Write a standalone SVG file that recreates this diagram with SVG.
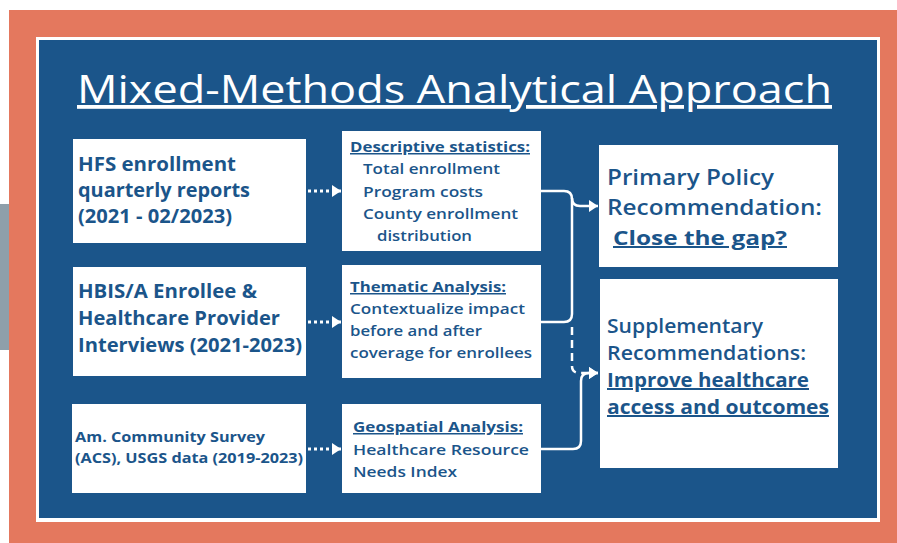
<svg xmlns="http://www.w3.org/2000/svg" width="897" height="543" viewBox="0 0 897 543">
  <style>
    text { font-family: "Open Sans", "Noto Sans", "Liberation Sans", sans-serif; fill: #1b558a; font-weight: 600; }
    .title { fill: #ffffff; font-size: 38px; font-weight: 500; text-decoration: underline; }
    .b { font-weight: 700; }
    .u { text-decoration: underline; }
    .box { fill: #ffffff; }
    .s19 { font-size: 19px; }
    .s15 { font-size: 15px; }
    .s14 { font-size: 14.5px; }
    .s22 { font-size: 22px; }
    .s20 { font-size: 20px; }
    .conn { fill: none; stroke: #ffffff; stroke-width: 2.5; }
    .dot { fill: none; stroke: #ffffff; stroke-width: 3; stroke-dasharray: 3 3; }
    .dash { fill: none; stroke: #ffffff; stroke-width: 2.5; stroke-dasharray: 8 5; }
  </style>
  <defs>
    <marker id="ah" markerUnits="userSpaceOnUse" markerWidth="10" markerHeight="12" refX="9" refY="6" orient="auto">
      <path d="M0,0 L9,6 L0,12 z" fill="#ffffff"/>
    </marker>
  </defs>

  <!-- frame -->
  <rect x="0" y="204" width="12" height="146" fill="#8e9faa"/>
  <rect x="9" y="10" width="888" height="533" fill="#e4785e"/>
  <rect x="36" y="37" width="844" height="485" fill="#ffffff"/>
  <rect x="39" y="40" width="838" height="478" fill="#1b558a"/>

  <text class="title" x="77" y="103" textLength="755" lengthAdjust="spacingAndGlyphs">Mixed-Methods Analytical Approach</text>

  <!-- data sources -->
  <g id="hfs-reports">
    <rect class="box" x="73" y="139" width="233" height="104"/>
    <text class="b s19" x="78" y="171" textLength="158" lengthAdjust="spacingAndGlyphs">HFS enrollment</text>
    <text class="b s19" x="78" y="197" textLength="172" lengthAdjust="spacingAndGlyphs">quarterly reports</text>
    <text class="b s19" x="78" y="223" textLength="154" lengthAdjust="spacingAndGlyphs">(2021 - 02/2023)</text>
  </g>
  <g id="hbis-interviews">
    <rect class="box" x="73" y="267" width="233" height="109"/>
    <text class="b s19" x="78" y="298" textLength="179" lengthAdjust="spacingAndGlyphs">HBIS/A Enrollee &amp;</text>
    <text class="b s19" x="78" y="325" textLength="202" lengthAdjust="spacingAndGlyphs">Healthcare Provider</text>
    <text class="b s19" x="78" y="352" textLength="224" lengthAdjust="spacingAndGlyphs">Interviews (2021-2023)</text>
  </g>
  <g id="acs-usgs">
    <rect class="box" x="72" y="404" width="234" height="89"/>
    <text class="b s14" x="75" y="442" textLength="190" lengthAdjust="spacingAndGlyphs">Am. Community Survey</text>
    <text class="b s14" x="75" y="463" textLength="228" lengthAdjust="spacingAndGlyphs">(ACS), USGS data (2019-2023)</text>
  </g>

  <!-- analyses -->
  <g id="descriptive">
    <rect class="box" x="342" y="131" width="199" height="120"/>
    <text class="b u s15" x="350" y="152" textLength="180" lengthAdjust="spacingAndGlyphs">Descriptive statistics:</text>
    <text class="s15" x="363" y="174" textLength="137" lengthAdjust="spacingAndGlyphs">Total enrollment</text>
    <text class="s15" x="363" y="197" textLength="120" lengthAdjust="spacingAndGlyphs">Program costs</text>
    <text class="s15" x="363" y="219" textLength="155" lengthAdjust="spacingAndGlyphs">County enrollment</text>
    <text class="s15" x="377" y="241" textLength="95" lengthAdjust="spacingAndGlyphs">distribution</text>
  </g>
  <g id="thematic">
    <rect class="box" x="342" y="265" width="199" height="113"/>
    <text class="b u s15" x="350" y="292" textLength="156" lengthAdjust="spacingAndGlyphs">Thematic Analysis:</text>
    <text class="s15" x="350" y="314" textLength="175" lengthAdjust="spacingAndGlyphs">Contextualize impact</text>
    <text class="s15" x="350" y="336" textLength="132" lengthAdjust="spacingAndGlyphs">before and after</text>
    <text class="s15" x="350" y="358" textLength="182" lengthAdjust="spacingAndGlyphs">coverage for enrollees</text>
  </g>
  <g id="geospatial">
    <rect class="box" x="342" y="404" width="199" height="89"/>
    <text class="b u s15" x="353" y="432" textLength="170" lengthAdjust="spacingAndGlyphs">Geospatial Analysis:</text>
    <text class="s15" x="353" y="455" textLength="176" lengthAdjust="spacingAndGlyphs">Healthcare Resource</text>
    <text class="s15" x="353" y="477" textLength="104" lengthAdjust="spacingAndGlyphs">Needs Index</text>
  </g>

  <!-- recommendations -->
  <g id="primary-policy">
    <rect class="box" x="599" y="145" width="239" height="122"/>
    <text class="s22" x="607" y="185" textLength="167" lengthAdjust="spacingAndGlyphs">Primary Policy</text>
    <text class="s22" x="607" y="215" textLength="215" lengthAdjust="spacingAndGlyphs">Recommendation:</text>
    <text class="b u s20" x="613" y="245" textLength="174" lengthAdjust="spacingAndGlyphs">Close the gap?</text>
  </g>
  <g id="supplementary">
    <rect class="box" x="600" y="279" width="238" height="189"/>
    <text class="s20" x="607" y="333" textLength="156" lengthAdjust="spacingAndGlyphs">Supplementary</text>
    <text class="s20" x="607" y="360" textLength="199" lengthAdjust="spacingAndGlyphs">Recommendations:</text>
    <text class="b u s20" x="607" y="387" textLength="202" lengthAdjust="spacingAndGlyphs">Improve healthcare</text>
    <text class="b u s20" x="607" y="414" textLength="222" lengthAdjust="spacingAndGlyphs">access and outcomes</text>
  </g>

  <!-- connectors -->
  <g id="connectors">
    <path class="dot" d="M308,191 H341" marker-end="url(#ah)"/>
    <path class="dot" d="M308,322 H341" marker-end="url(#ah)"/>
    <path class="dot" d="M308,449 H341" marker-end="url(#ah)"/>
    <path class="conn" d="M541,191 H564 Q572,191 572,199 V314 Q572,322 564,322 H541"/>
    <path class="conn" d="M572,198 Q572,206 580,206 H598" marker-end="url(#ah)"/>
    <path class="dash" d="M572,327 V366 Q572,373 580,373 H598" marker-end="url(#ah)"/>
    <path class="conn" d="M541,449 H573 Q581,449 581,441 V381 Q581,373 589,373 H598" marker-end="url(#ah)"/>
  </g>
</svg>
